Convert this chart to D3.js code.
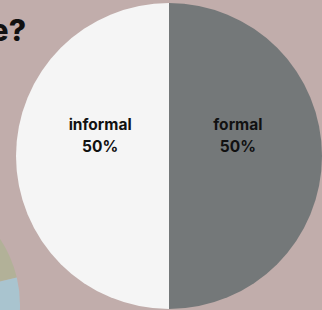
<!DOCTYPE html>
<html>
<head>
<meta charset="utf-8">
<script src="https://cdn.jsdelivr.net/npm/d3@7"></script>
<style>
  body { margin: 0; background: #c1adab; }
  svg { display: block; }
</style>
</head>
<body>
<svg id="chart" width="322" height="310"></svg>
<script>
// main pie
var categories = ['formal', 'informal'];
var shares = [50, 50];
var colors = ['#747879', '#f5f5f5'];

// neighbouring pie, only a corner of it shows
var sideShares = [40, 60];
var sideColors = ['#b2b198', '#a9c4cf'];

var titleText = 'e?';

var W = 322, H = 310;
var svg = d3.select('#chart');

svg.append('rect')
	.attr('width', W)
	.attr('height', H)
	.style('fill', '#c1adab');

// side pie in the bottom left
var sidePie = d3.pie().sort(null).startAngle(0.5).endAngle(2.6);
var sideArc = d3.arc().innerRadius(0).outerRadius(120);

svg.append('g')
	.attr('transform', 'translate(-100,305)')
	.selectAll('path')
	.data(sidePie(sideShares))
	.enter()
	.append('path')
	.attr('d', sideArc)
	.style('fill', function(d, i) { return sideColors[i] });

// title fragment
svg.append('text')
	.attr('x', 26)
	.attr('y', 41)
	.attr('text-anchor', 'end')
	.style('font-family', 'Inter, sans-serif')
	.style('font-weight', 800)
	.style('font-size', '30px')
	.style('fill', '#111')
	.text(titleText);

var cx = 169, cy = 156, R = 153;
var pie = d3.pie().sort(null);
var arc = d3.arc().innerRadius(0).outerRadius(R);
var labelArc = d3.arc().innerRadius(R * 0.45).outerRadius(R * 0.45);

var g = svg.append('g').attr('transform', 'translate(' + cx + ',' + cy + ')');

g.selectAll('path')
	.data(pie(shares))
	.enter()
	.append('path')
	.attr('d', arc)
	.style('fill', function(d, i) { return colors[i] });

var labels = g.selectAll('.lbl')
	.data(pie(shares))
	.enter()
	.append('text')
	.attr('class', 'lbl')
	.attr('text-anchor', 'middle')
	.attr('transform', function(d) {
		var c = labelArc.centroid(d);
		return 'translate(' + c[0] + ',' + (c[1] - 26) + ')';
	})
	.style('font-family', 'Inter, sans-serif')
	.style('font-weight', 700)
	.style('font-size', '15.5px')
	.style('fill', '#111');

labels.append('tspan')
	.attr('x', 0)
	.text(function(d, i) { return categories[i] });

labels.append('tspan')
	.attr('x', 0)
	.attr('dy', 22)
	.text(function(d) { return d.value + '%' });
</script>
</body>
</html>
